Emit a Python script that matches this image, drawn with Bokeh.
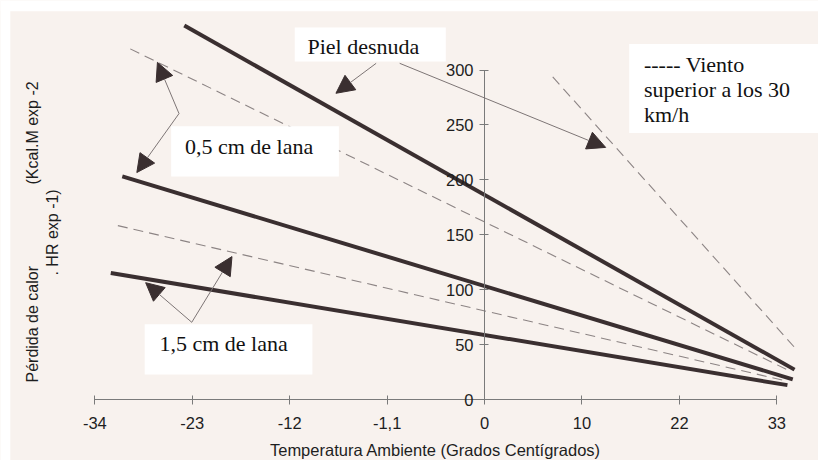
import numpy as np
from bokeh.plotting import figure
from bokeh.models import Range1d, LinearAxis, FixedTicker, Arrow, NormalHead, Label
from bokeh.embed import file_html
from bokeh.resources import INLINE
from bokeh.core.properties import value

# ---- axis ticks (equally spaced slots, original labels) ----
x_tick_pos = [-44, -33, -22, -11, 0, 11, 22, 33]
x_tick_labels = ["-34", "-23", "-12", "-1,1", "0", "10", "22", "33"]
y_ticks = [0, 50, 100, 150, 200, 250, 300]

# ---- series: solid lines (calm air) ----
piel_x = [-33.9, 35.0]
piel_y = [340.5, 27.3]
lana05_x = [-40.9, 34.8]
lana05_y = [203.2, 18.5]
lana15_x = [-42.2, 34.2]
lana15_y = [115.2, 13.2]

# ---- series: dashed lines (wind > 30 km/h) ----
piel_v_x = [7.7, 35.3]
piel_v_y = [293.8, 44.9]
lana05_v_x = [-40.0, 34.6]
lana05_v_y = [319.3, 25.5]
lana15_v_x = [-41.4, 34.2]
lana15_v_y = [158.4, 16.7]

CREAM = "#f8f2ee"
DARK = "#3a2f30"
GRAY = "#8c8484"
AX = "#7a7a7a"

W, H = 818, 460
REF_W, REF_H = 834, 476
X0PX, XS = 493.5, 9.03      # reference px of x=0, px per unit
Y0PX, YS = 413.0, 1.1367    # reference px of y=0, px per unit


def px(xp):
    return (xp - X0PX) / XS


def py(yp):
    return (Y0PX - yp) / YS


p = figure(width=W, height=H, output_backend="svg", toolbar_location=None,
           x_axis_location=None, y_axis_location=None,
           x_range=Range1d(px(0), px(REF_W)), y_range=Range1d(py(REF_H), py(0)),
           min_border=0, background_fill_color=CREAM, border_fill_color=CREAM)
p.outline_line_color = None
p.xgrid.visible = False
p.ygrid.visible = False

# white scan border (top and left)
p.quad(left=[px(0), px(0)], right=[px(REF_W), px(10)],
       top=[py(0), py(0)], bottom=[py(11), py(REF_H)],
       fill_color="white", line_color=None)

# dashed (wind) lines
for xs, ys in [(piel_v_x, piel_v_y), (lana05_v_x, lana05_v_y), (lana15_v_x, lana15_v_y)]:
    p.line(xs, ys, line_color=GRAY, line_width=1.1, line_dash="10 6")

# white label boxes
boxes = [(300, 454, 28, 63), (174, 345, 130, 182), (147, 318, 335, 387), (641, 840, 45, 137)]
p.quad(left=[px(b[0]) for b in boxes], right=[px(b[1]) for b in boxes],
       top=[py(b[2]) for b in boxes], bottom=[py(b[3]) for b in boxes],
       fill_color="white", line_color=None)

# solid lines
for xs, ys in [(piel_x, piel_y), (lana05_x, lana05_y), (lana15_x, lana15_y)]:
    p.line(xs, ys, line_color=DARK, line_width=4)

# axes
xaxis = LinearAxis(fixed_location=0, bounds=(-44, 33),
                   ticker=FixedTicker(ticks=x_tick_pos),
                   major_label_overrides=dict(zip(x_tick_pos, x_tick_labels)),
                   axis_label="Temperatura Ambiente (Grados Centígrados)")
yaxis = LinearAxis(fixed_location=0, bounds=(0, 300), ticker=FixedTicker(ticks=y_ticks))
for ax in (xaxis, yaxis):
    ax.axis_line_color = AX
    ax.major_tick_line_color = AX
    ax.minor_tick_line_color = None
    ax.major_tick_in = 4
    ax.major_tick_out = 5
    ax.major_label_text_font = "Liberation Sans"
    ax.major_label_text_font_size = "16.5px"
    ax.major_label_text_color = "#1e1e1e"
    ax.axis_label_text_font = "Liberation Sans"
    ax.axis_label_text_font_size = "16.5px"
    ax.axis_label_text_font_style = "normal"
    ax.axis_label_text_color = "#1e1e1e"
xaxis.major_label_standoff = 12
xaxis.axis_label_standoff = 9
yaxis.major_label_standoff = 6
p.add_layout(xaxis, "below")
p.add_layout(yaxis, "left")

# rotated y title pieces
p.text(x=[px(33), px(33), px(53)], y=[py(335), py(137), py(240)],
       text=["Pérdida de calor", "(Kcal.M exp -2", ". HR exp -1)"],
       angle=np.pi / 2, text_align="center", text_baseline="middle",
       text_font=value("Liberation Sans"), text_font_size="16px", text_color="#1e1e1e")

# annotation texts
serif = dict(text_font="Liberation Serif", text_font_size="22px", text_color="#111111",
             text_baseline="alphabetic")
for (tx, ty, t) in [(313, 48, "Piel desnuda"), (188, 151, "0,5 cm de lana"),
                    (162, 355, "1,5 cm de lana"), (656, 66, "----- Viento"),
                    (656, 92, "superior a los 30"), (656, 118, "km/h")]:
    p.add_layout(Label(x=px(tx), y=py(ty), text=t, **serif))

# arrows
arrows = [((383, 65), (342, 96)), ((407, 65), (617, 152)),
          ((182, 117), (160, 64)), ((182, 117), (139, 178)),
          ((195, 333), (148, 292)), ((195, 333), (236, 265))]
for (s, e) in arrows:
    p.add_layout(Arrow(x_start=px(s[0]), y_start=py(s[1]), x_end=px(e[0]), y_end=py(e[1]),
                       line_color="#7d7575", line_width=1,
                       end=NormalHead(size=18, fill_color=DARK, line_color=DARK)))

open("out.html", "w").write(file_html(p, INLINE))
